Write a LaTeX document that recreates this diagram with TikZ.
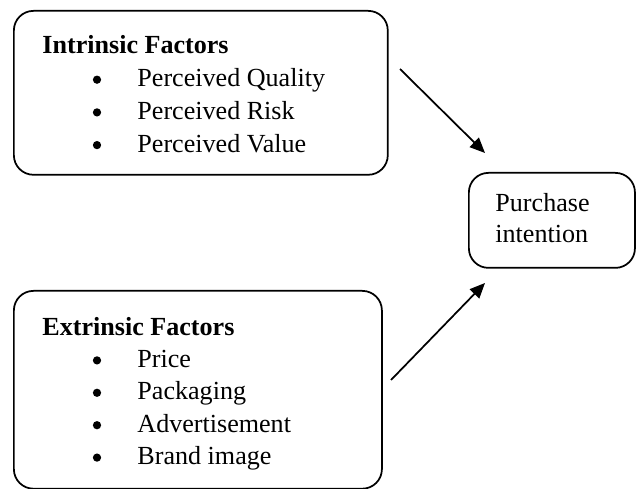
\documentclass[tikz,border=0pt]{standalone}
\usepackage{fontspec}
\setmainfont{Liberation Serif}
\usetikzlibrary{arrows.meta, positioning}

\begin{document}
\begin{tikzpicture}[
      x=0.46pt, y=-0.46pt,
      every node/.style={font=\fontsize{12}{14.4}\selectfont},
      box/.style={rectangle, draw, line width=0.8pt, rounded corners=9pt, inner sep=0pt, anchor=north west},
      head/.style={anchor=base west, inner sep=0pt, font=\fontsize{12}{14.4}\selectfont\bfseries},
      item/.style={anchor=base west, inner sep=0pt},
      dot/.style={circle, fill, inner sep=0pt, minimum size=3.8pt},
      arrow/.style={-{Triangle[length=7pt, width=6pt]}, line width=0.8pt}
    ]
    \useasboundingbox (0,0) rectangle (636,489);

    % intrinsic factors
    \node[box, minimum width=172pt, minimum height=75.4pt] (intrinsic) at (13,10) {};
    \node[head] (intrinsic-head) at (42,54) {Intrinsic Factors};
    \foreach \txt [count=\i] in {Perceived Quality, Perceived Risk, Perceived Value} {
      \node[dot] (intrinsic-dot-\i) at (97,54+32.7*\i-7) {};
      \node[item] (intrinsic-item-\i) at (137,54+32.7*\i) {\txt};
    }

    % extrinsic factors
    \node[box, minimum width=169.3pt, minimum height=91pt] (extrinsic) at (13,290) {};
    \node[head] (extrinsic-head) at (42,335) {Extrinsic Factors};
    \foreach \txt [count=\i] in {Price, Packaging, Advertisement, Brand image} {
      \node[dot] (extrinsic-dot-\i) at (97,335+32.4*\i-7) {};
      \node[item] (extrinsic-item-\i) at (137,335+32.4*\i) {\txt};
    }

    % outcome
    \node[box, minimum width=76.4pt, minimum height=43.7pt] (purchase) at (468,172) {};
    \node[item] (purchase-top) at (495,212) {Purchase};
    \node[item] (purchase-bottom) at (495,243) {intention};

    \coordinate (from-intrinsic) at (400,69);
    \coordinate (into-purchase-top) at (485,153);
    \coordinate (from-extrinsic) at (391,380);
    \coordinate (into-purchase-bottom) at (485,283);
    \draw[arrow] (from-intrinsic) -- (into-purchase-top);
    \draw[arrow] (from-extrinsic) -- (into-purchase-bottom);
  \end{tikzpicture}
\end{document}
